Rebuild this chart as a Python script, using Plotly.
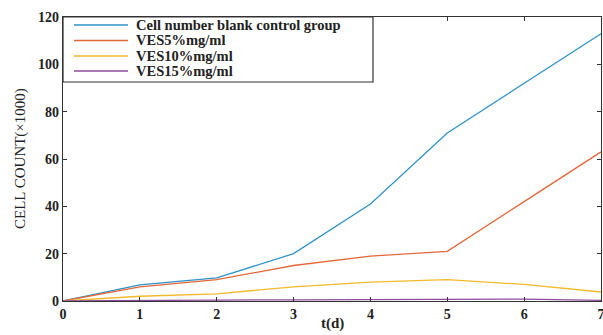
import plotly.graph_objects as go

days = [0, 1, 2, 3, 4, 5, 6, 7]
blank_control = [0, 6.8, 9.8, 20, 41, 71, 92, 112.9]
ves5 = [0, 6, 9, 15, 19, 21, 42, 63]
ves10 = [0, 2, 3, 6, 8, 9, 7, 3.8]
ves15 = [0, 0.3, 0.4, 0.5, 0.6, 0.6, 0.8, 0.3]
y_ticks = [0, 20, 40, 60, 80, 100, 120]

names = ["Cell number blank control group", "VES5%mg/ml", "VES10%mg/ml", "VES15%mg/ml"]
colors = ["#2f93c8", "#e2683a", "#f2b92a", "#8e4a9c"]
series = [blank_control, ves5, ves10, ves15]

font_family = "Liberation Serif, Times New Roman, serif"
W, H = 603, 335
ML, MR, MT, MB = 63, 2, 17, 34
PW, PH = W - ML - MR, H - MT - MB


def px_x(px):
    return (px - ML) / PW


def px_y(py):
    return (H - MB - py) / PH


fig = go.Figure()
for name, vals, c in zip(names, series, colors):
    fig.add_trace(go.Scatter(x=days, y=vals, mode="lines", name=name,
                             line=dict(color=c, width=1.3), showlegend=False))

shapes = []
annotations = []
# legend box
shapes.append(dict(type="rect", xref="paper", yref="paper",
                   x0=px_x(63), x1=px_x(373), y0=px_y(82), y1=px_y(17),
                   line=dict(color="#333333", width=1.2), fillcolor="white", layer="above"))
rows = [25, 40.5, 56, 71]
for name, c, ry in zip(names, colors, rows):
    shapes.append(dict(type="line", xref="paper", yref="paper",
                       x0=px_x(74), x1=px_x(128), y0=px_y(ry), y1=px_y(ry),
                       line=dict(color=c, width=1.3), layer="above"))
    annotations.append(dict(xref="paper", yref="paper", x=px_x(134), y=px_y(ry),
                            xanchor="left", yanchor="middle", text=name, showarrow=False,
                            font=dict(family=font_family, size=14.5, weight="bold", color="#222222")))

# axis titles
annotations.append(dict(xref="paper", yref="paper", x=px_x(20), y=0.5,
                        xanchor="center", yanchor="middle", text="CELL COUNT(×1000)",
                        textangle=-90, showarrow=False,
                        font=dict(family=font_family, size=15, color="#222222")))
annotations.append(dict(xref="paper", yref="paper", x=0.5, y=px_y(334),
                        xanchor="center", yanchor="bottom", text="t(d)", showarrow=False,
                        font=dict(family=font_family, size=15, weight="bold", color="#222222")))

fig.update_layout(
    width=W, height=H,
    margin=dict(l=ML, r=MR, t=MT, b=MB),
    plot_bgcolor="white", paper_bgcolor="white",
    font=dict(family=font_family, color="#222222"),
    showlegend=False,
    shapes=shapes, annotations=annotations,
)
fig.update_xaxes(range=[0, 7], tickvals=days, ticks="inside", ticklen=4, tickcolor="#333333",
                 showline=True, linecolor="#333333", linewidth=1.2, mirror="ticks",
                 showgrid=False, zeroline=False, automargin=False, ticklabeloverflow="allow",
                 tickfont=dict(family=font_family, size=14, weight="bold", color="#222222"))
fig.update_yaxes(range=[0, 120], tickvals=y_ticks, ticks="inside", ticklen=4, tickcolor="#333333",
                 showline=True, linecolor="#333333", linewidth=1.2, mirror="ticks",
                 showgrid=False, zeroline=False, automargin=False, ticklabeloverflow="allow",
                 tickfont=dict(family=font_family, size=14, weight="bold", color="#222222"))

fig.write_html("out.html", config={"displayModeBar": False},
               post_script="document.body.style.margin='0px'; document.body.style.overflow='hidden';")
